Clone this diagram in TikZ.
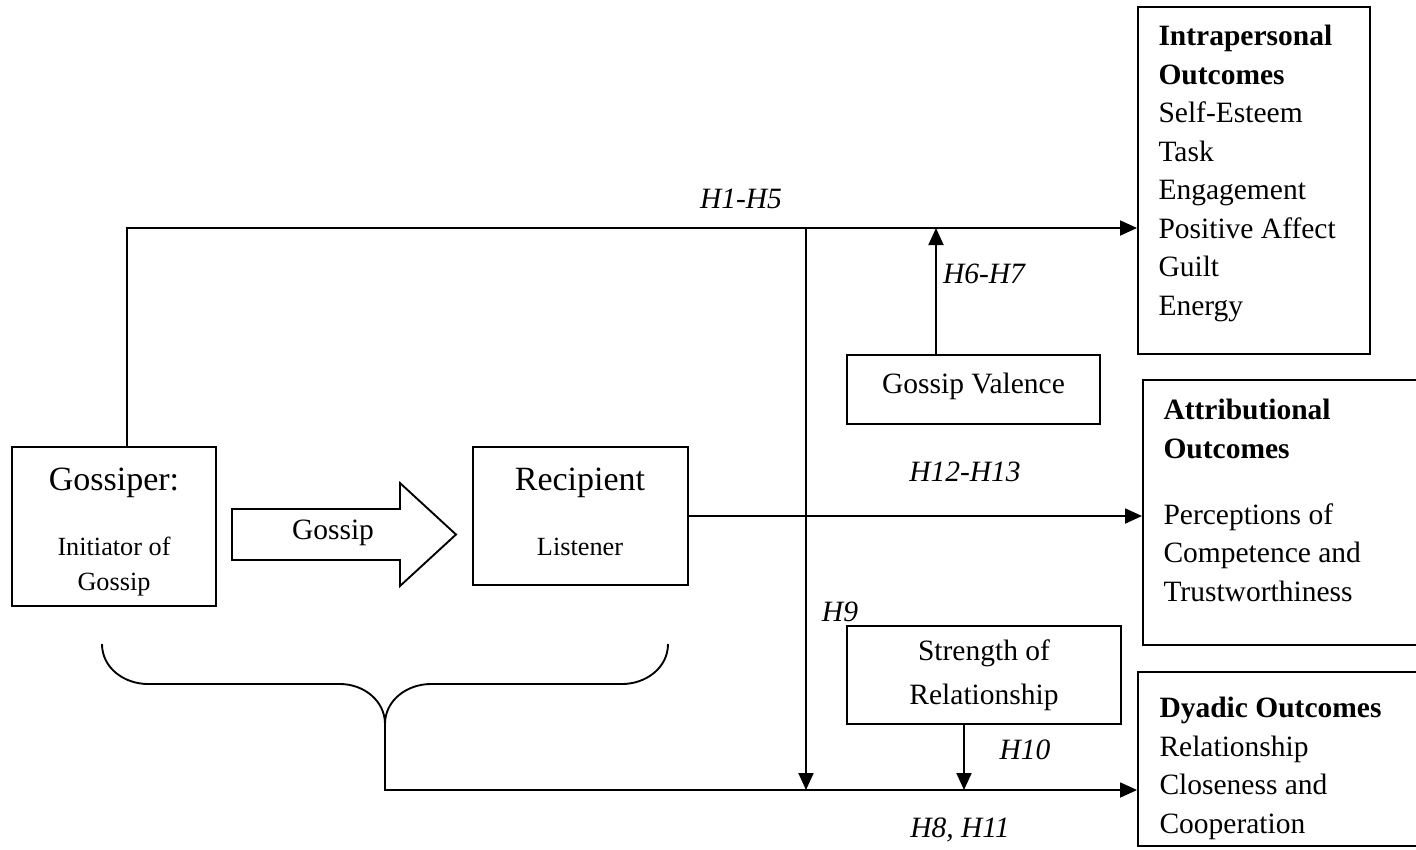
\documentclass[tikz,border=0pt]{standalone}
\usepackage{fontspec}
\setmainfont{Liberation Serif}
\usetikzlibrary{arrows.meta,fit}

\tikzset{
  box/.style={draw, line width=0.75pt, inner sep=0pt},
  link/.style={line width=0.75pt},
  arr/.style={line width=0.75pt, -{Triangle[length=6.8pt,width=6pt]}},
  txt/.style={font=\fontsize{11.8}{15.4}\selectfont, inner sep=0pt},
  headtext/.style={font=\fontsize{13.6}{16}\selectfont, inner sep=0pt},
  subtext/.style={font=\fontsize{10.5}{14}\selectfont, inner sep=0pt},
  hyp/.style={font=\fontsize{11.8}{14}\selectfont\itshape, inner sep=0pt},
  outtext/.style={txt, align=left, anchor=north west},
}

\begin{document}
\begin{tikzpicture}[x=0.4pt, y=-0.4pt]
    \clip (0,0) rectangle (1416,849);

    \node[box, fit={(12,447) (216,606)}] (gossiper) {};
    \node[headtext, anchor=base] (gossiperhead) at (114,490) {Gossiper:};
    \node[subtext, align=center, anchor=north] (gossiperrole) at (114,537) {Initiator of\\Gossip};

    \node[box, fit={(473,447) (688,585)}] (recipient) {};
    \node[headtext, anchor=base] (recipienthead) at (580,490) {Recipient};
    \node[subtext, anchor=north] (recipientrole) at (580,538) {Listener};

    \draw[line width=0.75pt] (232,509) -- (400,509) -- (400,483) -- (456,534.5) -- (400,586) -- (400,560) -- (232,560) -- cycle;
    \node[txt] (gossipflow) at (333,533) {Gossip};

    \node[box, fit={(847,355) (1100,424)}] (valence) {};
    \node[txt] (valencetext) at (973.5,386) {Gossip Valence};
    \node[box, fit={(847,626) (1121,724)}] (strength) {};
    \node[txt, font=\fontsize{11.8}{17.6}\selectfont, align=center] (strengthtext) at (strength.center) {Strength of\\Relationship};

    \node[box, fit={(1138,7) (1370,354)}] (intra) {};
    \node[outtext] (intratext) at (1158,25) {\textbf{Intrapersonal}\\\textbf{Outcomes}\\Self-Esteem\\Task\\Engagement\\Positive Affect\\Guilt\\Energy};

    \node[box, fit={(1143,380) (1430,645)}] (attrib) {};
    \node[outtext] (attribtext) at (1163,399) {\textbf{Attributional}\\\textbf{Outcomes}\\[11pt]Perceptions of\\Competence and\\Trustworthiness};

    \node[box, fit={(1138,672) (1430,846)}] (dyadic) {};
    \node[outtext] (dyadictext) at (1159,697) {\textbf{Dyadic Outcomes}\\Relationship\\Closeness and\\Cooperation};

    \draw[link] (102,644) to[out=-90, in=180] (148,684) -- (340,684) to[out=0, in=90] (385,724)
        to[out=90, in=180] (431,684) -- (622,684) to[out=0, in=-90] (668,644);
    \coordinate (cusp) at (385,724);

    \coordinate (topbend) at (127,228);
    \coordinate (lowbend) at (385,790);
    \coordinate (jup) at (806,228);
    \coordinate (jdown) at (806,790);
    \coordinate (vx) at (936,228);
    \coordinate (sx) at (964,790);

    \draw[arr] (gossiper.north -| topbend) -- (topbend) -- (topbend -| intra.west);
    \draw[arr] (jup) -- (jdown);
    \draw[arr] (valence.north -| vx) -- (vx);
    \draw[arr] (recipient.east) -- (recipient.east -| attrib.west);
    \draw[arr] (strength.south -| sx) -- (sx);
    \draw[arr] (cusp) -- (lowbend) -- (lowbend -| dyadic.west);

    \node[hyp] (h1) at (741,199) {H1-H5};
    \node[hyp] (h6) at (984,274) {H6-H7};
    \node[hyp] (h12) at (965,472) {H12-H13};
    \node[hyp] (h9) at (840,612) {H9};
    \node[hyp] (h10) at (1025,750) {H10};
    \node[hyp] (h8) at (960,830) {H8, H11};
\end{tikzpicture}
\end{document}
